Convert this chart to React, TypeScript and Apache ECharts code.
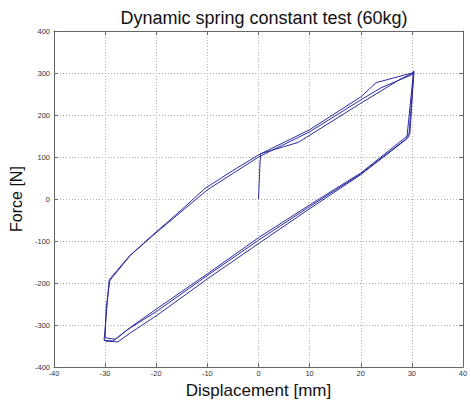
import React, { useEffect, useRef } from "react";
import * as echarts from "echarts";

const titleText = "Dynamic spring constant test (60kg)";
const xName = "Displacement [mm]";
const yName = "Force [N]";

// Displacement [mm] samples (time order)
const displacement = [
  0, 0.2, 0.4, 7.8, 20, 27.7, 30.2, 30.4,
  29.6, 20, 10, 0, -10, -20, -25, -28, -30,
  -29.8, -29.1, -28.5, -25, -20, -15, -10.5, -5, 0, 10, 20, 23, 30, 30.4,
  29.4, 20, 10, 0, -10, -20, -25.5, -28.5, -30.2,
  -29.2, -25.2, -20, -10, 0, 10, 20, 24, 30.2, 30.3,
  29, 20, 10, 0, -10, -20, -25, -27.5, -30, -30.2,
];
// Force [N] samples (time order)
const force = [
  0, 60, 108, 135, 228, 285, 300, 305,
  155, 62, -14, -92, -178, -262, -305, -334, -330,
  -260, -195, -185, -133, -78, -25, 25, 68, 105, 165, 243, 277, 300, 303,
  148, 60, -18, -98, -182, -268, -310, -338, -336,
  -192, -135, -80, 22, 100, 160, 236, 265, 297, 300,
  143, 58, -23, -106, -190, -278, -318, -340, -338, -333,
];

const xTicks = { min: -40, max: 40, interval: 10 };
const yTicks = { min: -400, max: 400, interval: 100 };

export default function App() {
  const ref = useRef<HTMLDivElement>(null);
  useEffect(() => {
    if (!ref.current) return;
    const chart = echarts.init(ref.current, null, { renderer: "svg" });
    const font = "Liberation Sans, Arial, sans-serif";
    const frame = { show: true, onZero: false, lineStyle: { color: "#666", width: 1 } };
    const grid = { show: true, lineStyle: { color: "#b0b0b0", type: [1, 2] as any, width: 1 } };
    const tick = { show: true, inside: true, length: 4, lineStyle: { color: "#666" } };
    const data = displacement.map((x, i) => [x, force[i]]);
    chart.setOption({
      animation: false,
      backgroundColor: "#fff",
      title: {
        text: titleText,
        left: 259,
        textAlign: "center",
        top: 4,
        textStyle: { fontFamily: font, fontSize: 18, fontWeight: "normal", color: "#111" },
      },
      grid: { left: 54, right: 8, top: 31, bottom: 33, containLabel: false },
      xAxis: [
        {
          type: "value",
          ...xTicks,
          position: "bottom",
          name: xName,
          nameLocation: "middle",
          nameGap: 10,
          nameTextStyle: { fontFamily: font, fontSize: 17, color: "#111" },
          axisLine: frame,
          axisTick: tick,
          splitLine: grid,
          axisLabel: { fontFamily: font, fontSize: 7.5, color: "#333", margin: 2 },
        },
        {
          type: "value",
          ...xTicks,
          position: "top",
          axisLine: frame,
          axisTick: tick,
          splitLine: { show: false },
          axisLabel: { show: false },
        },
      ],
      yAxis: [
        {
          type: "value",
          ...yTicks,
          position: "left",
          name: yName,
          nameLocation: "middle",
          nameGap: 25,
          nameTextStyle: { fontFamily: font, fontSize: 16, color: "#111" },
          axisLine: frame,
          axisTick: tick,
          splitLine: grid,
          axisLabel: { fontFamily: font, fontSize: 7.5, color: "#333", margin: 4 },
        },
        {
          type: "value",
          ...yTicks,
          position: "right",
          axisLine: frame,
          axisTick: tick,
          splitLine: { show: false },
          axisLabel: { show: false },
        },
      ],
      series: [
        {
          type: "line",
          data,
          showSymbol: false,
          symbol: "none",
          lineStyle: { color: "#2b2ba0", width: 1 },
          xAxisIndex: 0,
          yAxisIndex: 0,
        },
      ],
    });
    return () => chart.dispose();
  }, []);
  return (
    <div
      ref={ref}
      style={{ position: "absolute", left: 0, top: 0, width: 471, height: 404 }}
    />
  );
}
